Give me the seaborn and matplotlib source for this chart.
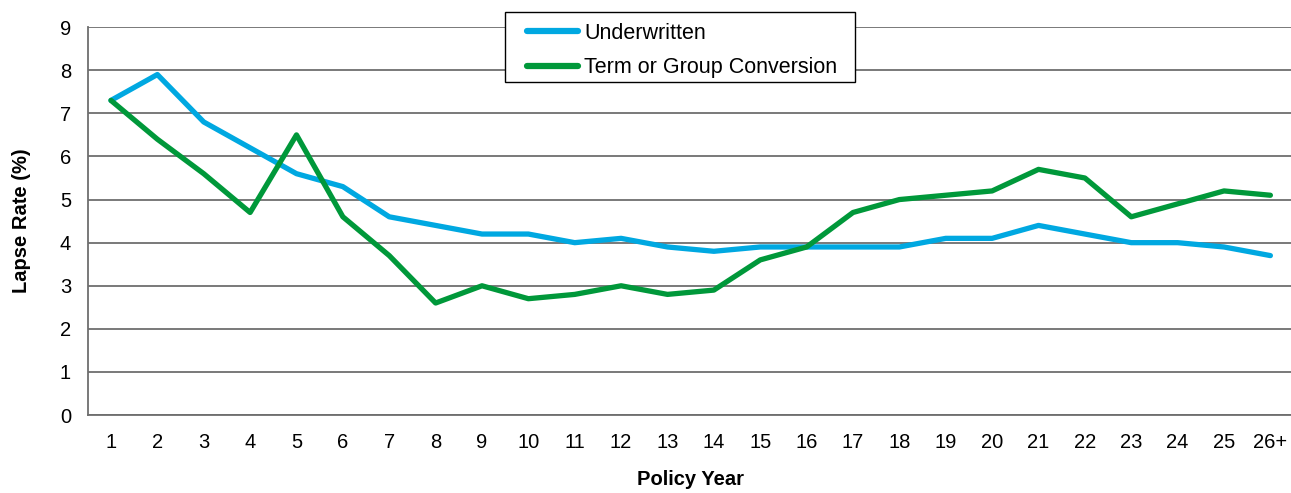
import numpy as np
import pandas as pd
import seaborn as sns
import matplotlib.pyplot as plt
from matplotlib.patches import Rectangle

sns.set_style('white')
plt.rcParams['font.family'] = ['Liberation Sans', 'DejaVu Sans']
plt.rcParams['text.color'] = 'black'
plt.rcParams['axes.labelcolor'] = 'black'

years = [str(i) for i in range(1, 26)] + ['26+']
underwritten = [7.3, 7.9, 6.8, 6.2, 5.6, 5.3, 4.6, 4.4, 4.2, 4.2, 4.0, 4.1, 3.9,
                3.8, 3.9, 3.9, 3.9, 3.9, 4.1, 4.1, 4.4, 4.2, 4.0, 4.0, 3.9, 3.7]
term_group = [7.3, 6.4, 5.6, 4.7, 6.5, 4.6, 3.7, 2.6, 3.0, 2.7, 2.8, 3.0, 2.8,
              2.9, 3.6, 3.9, 4.7, 5.0, 5.1, 5.2, 5.7, 5.5, 4.6, 4.9, 5.2, 5.1]

df = pd.DataFrame({'Policy Year': years,
                   'Underwritten': underwritten,
                   'Term or Group Conversion': term_group})
df = df.melt(id_vars='Policy Year', var_name='Series', value_name='Lapse')

fig = plt.figure(figsize=(12.91, 4.93), dpi=100)
ax = fig.add_axes([0.068, 0.158, 0.934, 0.787])

# horizontal grid
for v in range(0, 10):
    ax.axhline(v, color='#6e6e6e', lw=1.3, zorder=0)

sns.lineplot(data=df, x='Policy Year', y='Lapse', hue='Series', sort=False,
             palette={'Underwritten': '#00a8e1', 'Term or Group Conversion': '#00983a'},
             linewidth=3.8, ax=ax, zorder=3)

ax.set_xlim(-0.5, len(years) - 0.5)
ax.set_ylim(0, 9)
ax.set_yticks(range(0, 10))
ax.set_xticks(range(len(years)))
ax.set_xticklabels(years)
ax.set_xticks(np.arange(-0.5, len(years), 1), minor=True)
ax.tick_params(axis='x', which='major', length=0, labelsize=14.5, pad=13, labelcolor='black')
ax.tick_params(axis='x', which='minor', length=6, width=1.3, color='#6e6e6e')
ax.tick_params(axis='y', which='major', length=6, width=1.3, color='#6e6e6e',
               labelsize=14.5, pad=6, labelcolor='black')

for s in ['top', 'right']:
    ax.spines[s].set_visible(False)
for s in ['left', 'bottom']:
    ax.spines[s].set_color('#6e6e6e')
    ax.spines[s].set_linewidth(1.3)

ax.set_xlabel('Policy Year', fontsize=14.5, fontweight='bold', labelpad=13)
ax.set_ylabel('Lapse Rate (%)', fontsize=14.5, fontweight='bold', labelpad=21)

# legend without frame, box drawn by hand for the wider side padding
leg = ax.legend(loc='upper left', bbox_to_anchor=(0.3640, 1.0113), fontsize=15.5,
                frameon=False, handlelength=2.4, handletextpad=0.28,
                borderpad=0, labelspacing=0.62, borderaxespad=0)
for line in leg.get_lines():
    line.set_linewidth(4.5)
    line.set_solid_capstyle('round')
for t in leg.get_texts():
    t.set_color('black')
leg.set_zorder(6)

fig.canvas.draw()
bb = leg.get_window_extent()
inv = fig.transFigure.inverted()
(x0, y0) = inv.transform((bb.x0 - 22, bb.y0 - 4))
(x1, y1) = inv.transform((bb.x1 + 17, bb.y1 + 11))
ax.add_patch(Rectangle((x0, y0), x1 - x0, y1 - y0, transform=fig.transFigure,
                       facecolor='white', edgecolor='black', lw=1.0, zorder=5,
                       clip_on=False))

plt.savefig('out.png', dpi=100)
